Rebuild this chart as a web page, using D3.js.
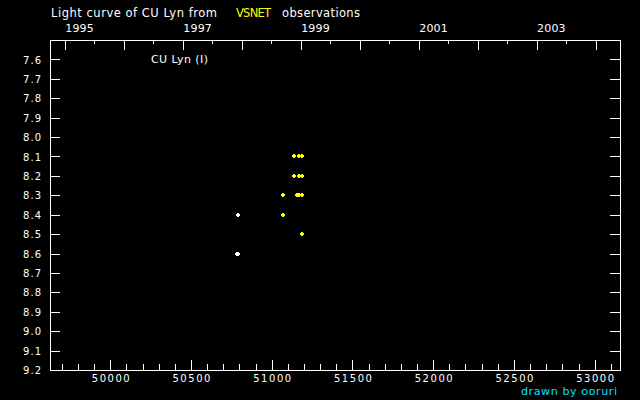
<!DOCTYPE html>
<html>
<head>
<meta charset="utf-8">
<script src="https://cdn.jsdelivr.net/npm/d3@7"></script>
<style>
  html, body { margin: 0; padding: 0; background: #000; }
  svg { display: block; }
  text { font-family: "DejaVu Sans", sans-serif; fill: #fff; }
</style>
</head>
<body>
<svg id="chart" width="640" height="400"></svg>
<script>
// ---- data ----
const starName = "CU Lyn";
const yearLabels = [1995, 1997, 1999, 2001, 2003];
const yearTicks = [1995, 1996, 1997, 1998, 1999, 2000, 2001, 2002, 2003, 2004];
const jdTickLabels = [50000, 50500, 51000, 51500, 52000, 52500, 53000];
const magTicks = [7.6, 7.7, 7.8, 7.9, 8.0, 8.1, 8.2, 8.3, 8.4, 8.5, 8.6, 8.7, 8.8, 8.9, 9.0, 9.1, 9.2];

// white (other) observations
const whiteJD  = [50793, 50788, 50794];
const whiteMag = [8.4, 8.6, 8.6];
// yellow (VSNET) observations
const yellowJD  = [51140, 51169, 51190, 51140, 51169, 51190, 51072, 51157, 51169, 51190, 51072, 51190];
const yellowMag = [8.1, 8.1, 8.1, 8.2, 8.2, 8.2, 8.3, 8.3, 8.3, 8.3, 8.4, 8.5];

// ---- layout ----
const L = 50, R = 620, T = 40, B = 370;
const svg = d3.select("#chart");
svg.append("rect").attr("width", 640).attr("height", 400).attr("fill", "#000");

const x = d3.scaleLinear().domain([49627, 53157]).range([L, R]);
const y = d3.scaleLinear().domain([7.5, 9.2]).range([T, B]);

// calendar date -> JD - 2400000
const toJD = (yr, frac) => (Date.UTC(yr, 0, 1) / 86400000 + 40587.5) + (frac || 0) * (Date.UTC(yr + 1, 0, 1) - Date.UTC(yr, 0, 1)) / 86400000;

const g = svg.append("g").attr("shape-rendering", "crispEdges");

// frame
g.append("rect").attr("x", L + 0.5).attr("y", T + 0.5)
  .attr("width", R - L).attr("height", B - T)
  .attr("fill", "none").attr("stroke", "#fff").attr("stroke-width", 1);

// bottom axis (JD) ticks
const jdMinor = d3.range(49700, 53157, 100).filter(v => v % 500 !== 0);
const bottomAxis = d3.axisBottom(x).tickValues(jdTickLabels).tickSize(0).tickFormat(d3.format("d"));
const ba = svg.append("g").attr("transform", `translate(0,${B + 11.5})`).call(bottomAxis);
ba.select(".domain").remove();
ba.selectAll("text").attr("fill", "#fff").style("font-size", "10px").attr("dy", 0)
  .attr("y", 0).attr("textLength", 38).attr("lengthAdjust", "spacing");

jdTickLabels.forEach(v => {
  const px = Math.round(x(v)) + 0.5;
  g.append("line").attr("x1", px).attr("x2", px).attr("y1", B).attr("y2", B - 10).attr("stroke", "#fff");
});
jdMinor.forEach(v => {
  const px = Math.round(x(v)) + 0.5;
  g.append("line").attr("x1", px).attr("x2", px).attr("y1", B).attr("y2", B - 6).attr("stroke", "#fff");
});

// top axis (years)
yearTicks.forEach(yr => {
  const px = Math.round(x(toJD(yr))) + 0.5;
  g.append("line").attr("x1", px).attr("x2", px).attr("y1", T).attr("y2", T + 10).attr("stroke", "#fff");
  const mid = toJD(yr, 0.5);
  if (x(mid) > L && x(mid) < R) {
    const pm = Math.round(x(mid)) + 0.5;
    g.append("line").attr("x1", pm).attr("x2", pm).attr("y1", T).attr("y2", T + 4).attr("stroke", "#fff");
  }
});
svg.append("g").selectAll("text").data(yearLabels).join("text")
  .attr("x", d => x(toJD(d)) + 0.5)
  .attr("y", 32)
  .style("font-size", "11px")
  .attr("textLength", 28.5).attr("lengthAdjust", "spacing")
  .text(d => d);

// left / right magnitude ticks
magTicks.forEach(m => {
  const py = Math.round(y(m)) + 0.5;
  g.append("line").attr("x1", L).attr("x2", L + 10).attr("y1", py).attr("y2", py).attr("stroke", "#fff");
  g.append("line").attr("x1", R - 10).attr("x2", R).attr("y1", py).attr("y2", py).attr("stroke", "#fff");
});
const leftAxis = d3.axisLeft(y).tickValues(magTicks).tickSize(0).tickFormat(d3.format(".1f"));
const la = svg.append("g").attr("transform", `translate(41,0)`).call(leftAxis);
la.select(".domain").remove();
la.selectAll("text").attr("fill", "#fff").style("font-size", "10px")
  .attr("x", 0).attr("dy", "0.36em").attr("textLength", 18).attr("lengthAdjust", "spacing")
  .attr("text-anchor", "end");

// points
const plus = "M-2,0H2M0,-2V2";
function drawPts(jds, mags, color) {
  svg.append("g").selectAll("path").data(jds.map((d, i) => [d, mags[i]])).join("path")
    .attr("transform", d => `translate(${Math.round(x(d[0]))},${Math.round(y(d[1]))})`)
    .attr("d", plus)
    .attr("stroke", color).attr("stroke-width", 2).attr("fill", "none")
    .attr("shape-rendering", "crispEdges");
}
drawPts(whiteJD, whiteMag, "#fff");
drawPts(yellowJD, yellowMag, "#ffff00");

// star label
svg.append("text").attr("x", 151).attr("y", 63).style("font-size", "11px")
  .attr("textLength", 57).attr("lengthAdjust", "spacing").text(`${starName} (I)`);

// title
const title = svg.append("g");
title.append("text").attr("x", 51).attr("y", 17).style("font-size", "11.5px")
  .attr("textLength", 166).attr("lengthAdjust", "spacing").text(`Light curve of ${starName} from`);
title.append("text").attr("x", 236).attr("y", 17).style("font-size", "11.5px").style("fill", "#ffff00")
  .attr("textLength", 35).attr("lengthAdjust", "spacing").text("VSNET");
title.append("text").attr("x", 282).attr("y", 17).style("font-size", "11.5px")
  .attr("textLength", 78).attr("lengthAdjust", "spacing").text("observations");

// credit
svg.append("text").attr("x", 521).attr("y", 395).style("font-size", "11px").style("fill", "#00e0ff")
  .attr("textLength", 96).attr("lengthAdjust", "spacing").text("drawn by ooruri");
</script>
</body>
</html>
